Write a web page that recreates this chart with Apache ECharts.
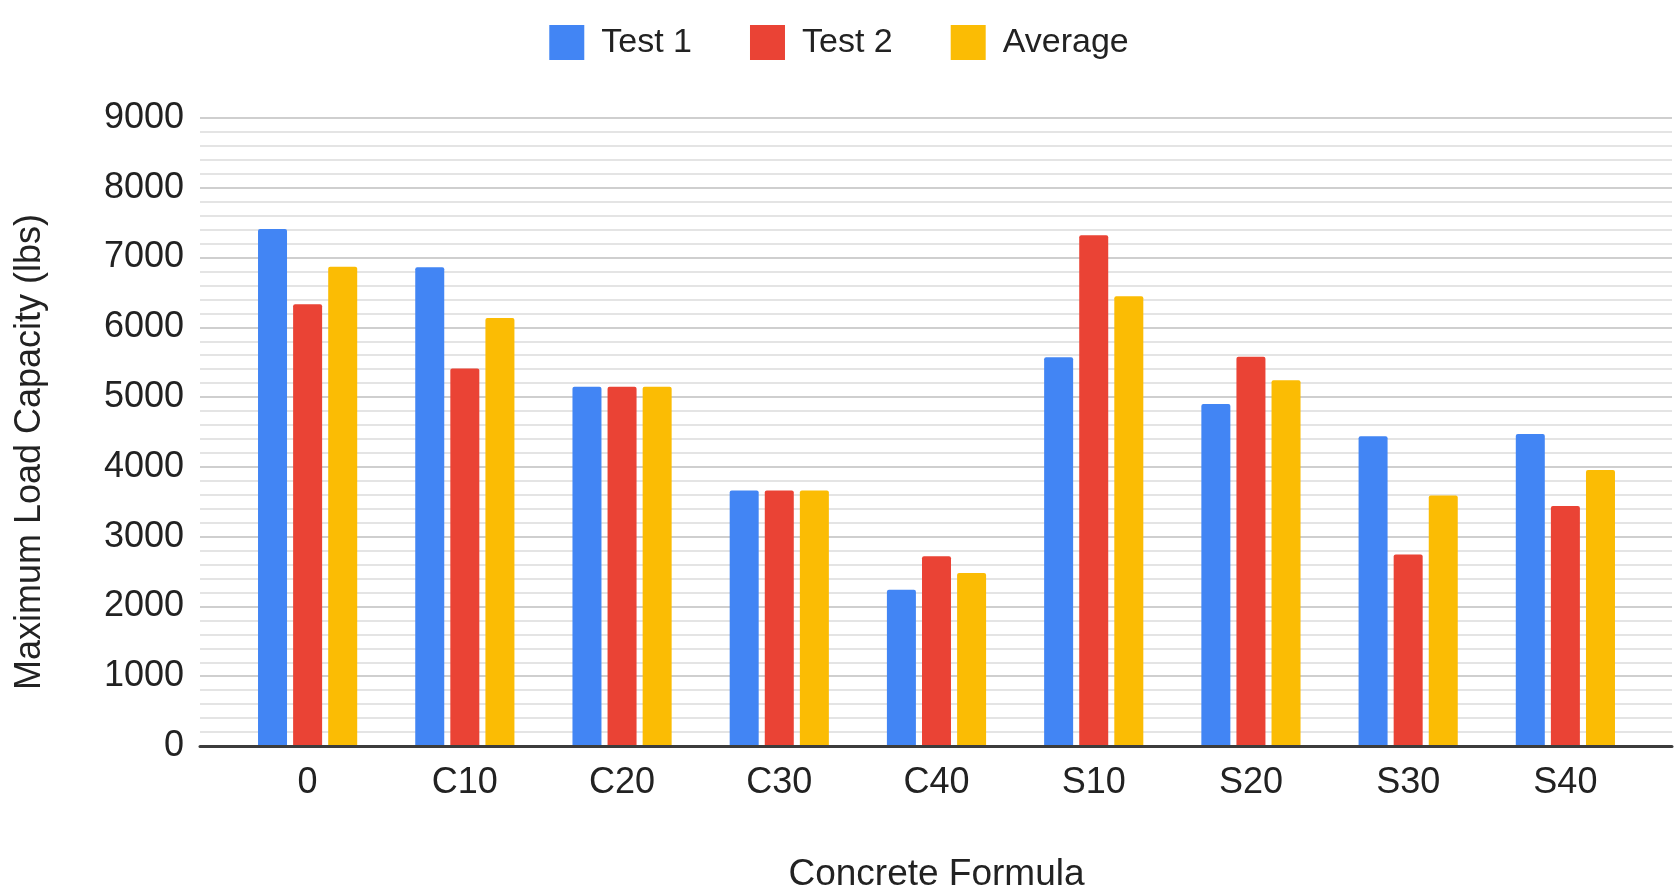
<!DOCTYPE html>
<html>
<head>
<meta charset="utf-8">
<title>Maximum Load Capacity by Concrete Formula</title>
<script src="https://cdn.jsdelivr.net/npm/echarts@6/dist/echarts.min.js"></script>
<style>
  html, body { margin: 0; padding: 0; background: #fff; }
  #chart { width: 1678px; height: 896px; }
</style>
</head>
<body>
<div id="chart"></div>
<script>
// Concrete formulas along the x axis
const categories = ['0', 'C10', 'C20', 'C30', 'C40', 'S10', 'S20', 'S30', 'S40'];

// Maximum load (lbs) per test run
const test1 = [7410, 6860, 5150, 3660, 2240, 5570, 4900, 4440, 4470];
const test2 = [6330, 5410, 5150, 3660, 2720, 7320, 5580, 2745, 3440];
const average = [6870, 6135, 5150, 3660, 2480, 6445, 5240, 3590, 3955];

const seriesNames = ['Test 1', 'Test 2', 'Average'];
const seriesColors = ['#4285F4', '#EA4335', '#FBBC04'];

// Value axis range and tick labels
const yMin = 0;
const yMax = 9000;
const yStep = 1000;

const FONT = '"Liberation Sans", Arial, sans-serif';
const TEXT = '#222';

const chart = echarts.init(document.getElementById('chart'));

const gridTop = 118;
const gridBottom = 150;

chart.setOption({
  backgroundColor: '#fff',
  animation: false,
  legend: {
    top: 20,
    left: 'center',
    itemWidth: 35,
    itemHeight: 35,
    itemGap: 58,
    icon: 'rect',
    textStyle: { fontFamily: FONT, fontSize: 34, color: TEXT, padding: [0, 0, 0, 12] },
    data: seriesNames
  },
  grid: [
    // background grid: gridlines, y labels and baseline
    { left: 200, right: 6, top: gridTop, bottom: gridBottom, outerBoundsMode: 'none' },
    // bar grid: categories are inset from the gridline ends
    { left: 229, right: 34, top: gridTop, bottom: gridBottom, outerBoundsMode: 'none' }
  ],
  xAxis: [
    {
      gridIndex: 0,
      type: 'value',
      min: 0,
      max: 1,
      z: 5,
      axisLine: { show: true, onZero: true, lineStyle: { color: '#3c3c3c', width: 3 } },
      axisTick: { show: false },
      axisLabel: { show: false },
      splitLine: { show: false }
    },
    {
      gridIndex: 1,
      type: 'category',
      data: categories,
      boundaryGap: true,
      axisLine: { show: false },
      axisTick: { show: false },
      axisLabel: { fontFamily: FONT, fontSize: 36, color: TEXT, margin: 19 },
      name: 'Concrete Formula',
      nameLocation: 'middle',
      nameGap: 110,
      nameTextStyle: { fontFamily: FONT, fontSize: 37, color: TEXT }
    }
  ],
  yAxis: [
    {
      gridIndex: 0,
      type: 'value',
      min: yMin,
      max: yMax,
      interval: yStep,
      axisLine: { show: false },
      axisTick: { show: false },
      axisLabel: {
        fontFamily: FONT, fontSize: 36, color: TEXT, margin: 16,
        formatter: (v) => String(v)
      },
      splitLine: { show: true, lineStyle: { color: '#cfcfcf', width: 2 } },
      minorTick: { show: false, splitNumber: 5 },
      minorSplitLine: { show: true, lineStyle: { color: '#e4e4e4', width: 2 } },
      name: 'Maximum Load Capacity (lbs)',
      nameLocation: 'middle',
      nameGap: 152,
      nameRotate: 90,
      nameTextStyle: { fontFamily: FONT, fontSize: 36, color: TEXT, padding: [0, 0, 0, -40] }
    },
    {
      gridIndex: 1,
      type: 'value',
      min: yMin,
      max: yMax,
      interval: yStep,
      show: false,
      splitLine: { show: false }
    }
  ],
  series: [test1, test2, average].map((values, i) => ({
    name: seriesNames[i],
    type: 'bar',
    xAxisIndex: 1,
    yAxisIndex: 1,
    data: values,
    barWidth: 29,
    barGap: '21%',
    itemStyle: { color: seriesColors[i], borderRadius: [2, 2, 0, 0] }
  }))
});
</script>
</body>
</html>
